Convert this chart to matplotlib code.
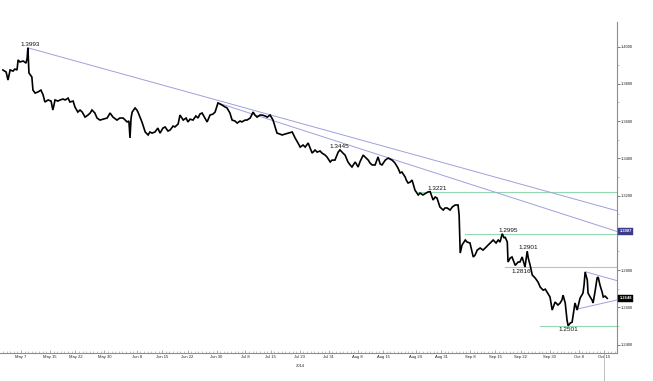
import numpy as np
import matplotlib
matplotlib.use("Agg")
import matplotlib.pyplot as plt
import matplotlib.transforms as mtransforms

plt.rcParams['font.family'] = ['Liberation Sans', 'DejaVu Sans']

# ---- data (x = days since 2014-05-07, y = EUR/USD price) ----
start = np.datetime64('2014-05-07')

price_day = [
    -5.0, -4.1, -3.6, -3.0, -2.2, -1.7, -1.1, -0.8, -0.3, 0.6, 1.4, 1.7, 1.9, 2.2, 3.0, 3.3, 3.9, 4.7,
    5.5, 6.1, 6.6, 7.5, 8.3, 8.8, 9.4, 10.2, 10.8, 11.6, 12.2, 13.0, 13.5, 14.4, 14.9, 15.7, 16.3, 16.9,
    17.7, 18.5, 19.1, 19.6, 20.4, 21.0, 21.8, 22.7, 23.8, 24.6, 25.4, 26.5, 27.3, 28.2, 29.3, 29.8, 30.1,
    30.4, 30.7, 31.5, 32.0, 32.3, 33.4, 34.3, 35.1, 35.6, 36.2, 37.0, 37.8,
    38.4, 39.2, 39.8, 40.6, 41.2, 42.0, 42.5, 43.4, 43.9, 44.8, 45.6, 46.1, 46.7, 47.5, 48.3, 48.9, 49.4,
    50.0, 50.8, 51.4, 52.2, 53.0, 53.6, 54.4, 55.0, 55.5, 56.4, 56.9, 57.7, 58.3, 59.1, 59.7, 60.5, 61.0,
    61.9, 62.4, 63.3, 64.1, 64.6, 65.2, 66.0, 66.6, 67.4, 68.0, 68.8, 69.6, 70.7, 71.5, 72.1, 72.9, 73.8,
    74.9, 75.7, 76.5, 77.1, 77.9, 78.5, 79.3,
    80.4, 81.2, 81.8, 82.6, 83.1, 84.0, 84.5, 85.4, 85.9, 86.7, 87.6, 88.1, 88.9, 89.5, 90.3, 90.9, 91.4,
    92.3, 93.1, 93.6, 94.5, 95.0, 95.9, 96.4, 97.0, 97.8, 98.6, 99.2, 99.7, 100.6, 101.4, 101.9, 102.5,
    103.3, 104.1, 104.7, 105.2, 106.1, 106.4, 106.9, 107.5, 108.0, 108.8, 109.7, 110.2, 111.0, 111.9,
    112.4, 113.0, 113.8, 114.4, 114.9, 115.7, 116.6, 117.1, 117.7, 118.5, 119.1, 119.9, 120.7,
    121.0, 121.3, 121.8, 122.7, 123.2, 124.0, 124.9, 125.4, 126.0, 126.8, 127.6, 128.2, 129.0, 129.6,
    130.4, 131.2, 131.8, 132.3, 132.9, 133.4, 133.7, 134.3, 134.5, 135.1, 135.6, 136.5, 137.3, 137.8,
    138.4, 139.2, 139.8, 140.1, 140.6, 141.2, 142.0, 142.8, 143.4, 144.2, 144.8, 145.3, 146.1, 146.7,
    147.5, 148.3, 148.9, 149.4, 149.7, 150.3, 150.8, 151.1, 151.7, 152.2, 153.0, 153.6, 154.4, 155.2,
    155.5, 155.8, 156.4, 156.6, 157.2, 157.7, 158.0, 158.6, 159.1, 159.4, 159.9, 160.5, 160.8, 161.3, 161.9,
]
price = [
    1.3874, 1.3863, 1.3820, 1.3874, 1.3868, 1.3879, 1.3874, 1.3928, 1.3917, 1.3922, 1.3911, 1.3938, 1.3993,
    1.3858, 1.3836, 1.3766, 1.3750, 1.3756,
    1.3766, 1.3740, 1.3702, 1.3713, 1.3707, 1.3659, 1.3713, 1.3707, 1.3713, 1.3718, 1.3713, 1.3723, 1.3702,
    1.3707, 1.3675, 1.3648, 1.3659, 1.3648,
    1.3621, 1.3632, 1.3643, 1.3659, 1.3643, 1.3616, 1.3605, 1.3610, 1.3616, 1.3643, 1.3621, 1.3605, 1.3616,
    1.3616, 1.3595, 1.3600, 1.3509,
    1.3616, 1.3648, 1.3670, 1.3659, 1.3648, 1.3595, 1.3541, 1.3525, 1.3541, 1.3535, 1.3541, 1.3562,
    1.3535, 1.3562, 1.3568, 1.3546, 1.3552, 1.3573, 1.3568, 1.3584, 1.3632, 1.3605, 1.3616, 1.3595, 1.3610,
    1.3605, 1.3627, 1.3616, 1.3637,
    1.3643, 1.3616, 1.3595, 1.3632, 1.3637, 1.3648, 1.3697, 1.3691, 1.3686, 1.3675, 1.3670, 1.3643, 1.3605,
    1.3600, 1.3589, 1.3600, 1.3595,
    1.3605, 1.3605, 1.3616, 1.3648, 1.3632, 1.3621, 1.3632, 1.3632, 1.3627, 1.3621, 1.3632, 1.3605, 1.3535,
    1.3530, 1.3525, 1.3530, 1.3535,
    1.3541, 1.3509, 1.3482, 1.3460, 1.3471, 1.3460, 1.3482,
    1.3428, 1.3444, 1.3433, 1.3439, 1.3428, 1.3417, 1.3407, 1.3380, 1.3390, 1.3390, 1.3433, 1.3445, 1.3428,
    1.3417, 1.3380, 1.3364, 1.3353,
    1.3380, 1.3353, 1.3380, 1.3417, 1.3407, 1.3390, 1.3374, 1.3364, 1.3364, 1.3407, 1.3369, 1.3364, 1.3390,
    1.3401, 1.3396, 1.3390,
    1.3374, 1.3348, 1.3321, 1.3326, 1.3299, 1.3283, 1.3267, 1.3272, 1.3283, 1.3229, 1.3203, 1.3213, 1.3203,
    1.3213,
    1.3219, 1.3221, 1.3176, 1.3192, 1.3186, 1.3138, 1.3122, 1.3133, 1.3133, 1.3122, 1.3138, 1.3149, 1.3149,
    1.3095, 1.2891, 1.2934, 1.2961, 1.2950, 1.2945, 1.2870, 1.2880, 1.2907, 1.2918, 1.2907, 1.2918, 1.2934,
    1.2945,
    1.2961, 1.2945, 1.2961, 1.2950, 1.2995, 1.2972, 1.2977, 1.2950, 1.2843, 1.2864, 1.2870, 1.2825, 1.2843,
    1.2843,
    1.2870, 1.2816, 1.2901, 1.2864, 1.2827, 1.2773, 1.2757, 1.2735, 1.2708, 1.2692, 1.2697, 1.2681, 1.2655,
    1.2585,
    1.2628, 1.2612, 1.2623, 1.2639, 1.2665, 1.2623, 1.2531, 1.2501, 1.2515, 1.2520, 1.2623, 1.2585, 1.2649,
    1.2676,
    1.2719, 1.2789, 1.2746, 1.2676, 1.2655, 1.2639, 1.2623, 1.2692, 1.2757, 1.2762, 1.2719, 1.2681, 1.2655,
    1.2660, 1.2648,
]

# trend lines: (x0, y0, x1, y1)
trend_lines = [
    (1.9, 1.3993, 164.6, 1.3118),
    (54.4, 1.3697, 164.6, 1.3007),
    (155.8, 1.2791, 164.6, 1.2743),
    (153.3, 1.2589, 164.6, 1.2639),
]
# horizontal support/resistance levels: (start_day, level)
levels = [(109.7, 1.3221), (122.7, 1.2995), (133.7, 1.2816), (143.4, 1.2501)]

# annotations: (x_day, value, text, above?)
annots = [
    (2.5, 1.3993, '1.3993', True),
    (87.8, 1.3445, '1.3445', True),
    (114.9, 1.3221, '1.3221', True),
    (134.5, 1.2995, '1.2995', True),
    (140.1, 1.2901, '1.2901', True),
    (138.1, 1.2816, '1.2816', False),
    (151.1, 1.2501, '1.2501', False),
]

tick_dates = ['2014-05-07', '2014-05-15', '2014-05-22', '2014-05-30', '2014-06-08', '2014-06-15',
              '2014-06-22', '2014-06-30', '2014-07-08', '2014-07-15', '2014-07-23', '2014-07-31',
              '2014-08-08', '2014-08-15', '2014-08-24', '2014-08-31', '2014-09-08', '2014-09-15',
              '2014-09-22', '2014-09-30', '2014-10-08', '2014-10-15']
tick_labels = ['May 7', 'May 15', 'May 22', 'May 30', 'Jun 8', 'Jun 15', 'Jun 22', 'Jun 30',
               'Jul 8', 'Jul 15', 'Jul 23', 'Jul 31', 'Aug 8', 'Aug 15', 'Aug 24', 'Aug 31',
               'Sep 8', 'Sep 15', 'Sep 22', 'Sep 30', 'Oct 8', 'Oct 15']
y_ticks = [1.24, 1.26, 1.28, 1.30, 1.32, 1.34, 1.36, 1.38, 1.40]

right_boxes = [(1.3007, '1.3007', '#3b3b8c'), (1.2648, '1.2648', '#000000')]

# ---- figure ----
fig = plt.figure(figsize=(6.53, 3.81), dpi=100)
ax = fig.add_axes([0.0, 1 - 353 / 381, 617 / 653, (353 - 21.7) / 381])

tick_pos = (np.array(tick_dates, dtype='datetime64[D]') - start).astype(float)

green = '#93d8b0'
purple = '#a0a0dc'
for x0, lvl in levels:
    ax.plot([x0, 164.6], [lvl, lvl], color=green, lw=0.8, zorder=1)
for x0, y0, x1, y1 in trend_lines:
    ax.plot([x0, x1], [y0, y1], color=purple, lw=0.7, zorder=1)

ax.plot(price_day, price, color='black', lw=1.2, zorder=3, solid_joinstyle='miter')

for xd, val, txt, above in annots:
    ax.annotate(txt, (xd, val), xytext=(0, 0.6 if above else -1.2), textcoords='offset points',
                ha='center', va='bottom' if above else 'top', fontsize=4.6, color='#111111', zorder=5)

ax.set_xlim(-5.8, 164.6)
ax.set_ylim(1.23544, 1.41332)

for s in ['left', 'top']:
    ax.spines[s].set_visible(False)
for s in ['right', 'bottom']:
    ax.spines[s].set_color('#8c8c8c')
    ax.spines[s].set_linewidth(0.8)

# the 1.3000 label sits under the 1.3007 marker box in the reference
def covered(v):
    return any(abs(v - b) < 0.0015 for b, _, _ in right_boxes)

ax.yaxis.tick_right()
ax.set_yticks(y_ticks)
ax.set_yticklabels(['' if covered(v) else '%.4f' % v for v in y_ticks])
ax.set_yticks(np.arange(1.25, 1.41, 0.02), minor=True)
ax.tick_params(axis='y', which='major', length=2, width=0.6, color='#666666', pad=1,
               labelsize=2.9, labelcolor='#222222')
ax.tick_params(axis='y', which='minor', length=1.5, width=0.5, color='#aaaaaa')

ax.set_xticks(tick_pos)
ax.set_xticklabels(tick_labels)
ax.set_xticks(np.arange(-5, 165, 1), minor=True)
ax.tick_params(axis='x', which='major', length=2, width=0.5, color='#888888', direction='in', pad=1.2,
               labelsize=3.0, labelcolor='#222222')
ax.tick_params(axis='x', which='minor', length=1.3, width=0.4, color='#999999', direction='in')

bt = mtransforms.blended_transform_factory(ax.transData, ax.transAxes)
i_jul23 = tick_labels.index('Jul 23')
ax.text(tick_pos[i_jul23], -0.032, '2014', transform=bt, ha='center', va='top', fontsize=3.0, color='#222222')
i_oct15 = tick_labels.index('Oct 15')
ax.plot([tick_pos[i_oct15]] * 2, [0, -0.085], transform=bt, color='#b5b5b5', lw=0.6, clip_on=False)

rt = mtransforms.blended_transform_factory(ax.transAxes, ax.transData)
for val, txt, col in right_boxes:
    ax.text(1.004, val, txt, transform=rt, ha='left', va='center', fontsize=2.9, color='white',
            fontweight='bold', zorder=10,
            bbox=dict(boxstyle='square,pad=0.35', facecolor=col, edgecolor=col, linewidth=0.3))

fig.savefig('out.png', dpi=100)
